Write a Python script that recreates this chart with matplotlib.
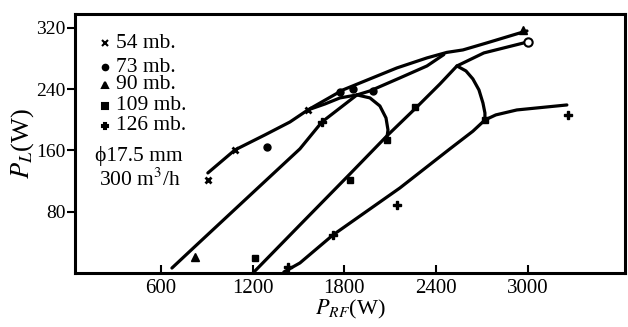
import matplotlib
matplotlib.use("Agg")
import matplotlib.pyplot as plt

plt.rcParams['font.family'] = ['Liberation Serif', 'DejaVu Serif']
plt.rcParams['mathtext.fontset'] = 'stix'

# 曲线数据
a_x = [907, 1084, 1280, 1444, 1561, 1790, 2143, 2340, 2470, 2575, 2732, 2948, 2994]
a_y = [130.6, 160.6, 180.2, 197.1, 212.8, 238.9, 267.6, 280.7, 287.9, 291.1, 300.3, 313.3, 315.9]

b_x = [672, 822, 1234, 1509, 1653, 1882, 1967, 2163, 2340, 2450]
b_y = [6.5, 34.5, 111, 162, 197.1, 232.4, 237.6, 254.6, 270.2, 285.0]

lens_x = [1561, 1673, 1771, 1882]
lens_y = [212.8, 220.6, 228.5, 232.4]

d_x = [1202, 1509, 1836, 2078, 2274, 2425, 2536, 2712, 3000]
d_y = [0, 62.7, 129.2, 178.9, 216.7, 246.7, 270.2, 287.2, 301.6]

e_x = [1404, 1509, 1725, 2163, 2490, 2640, 2719, 2790, 2928, 3255]
e_y = [1.3, 13.1, 49.6, 111, 162.0, 185.0, 199.7, 206.3, 212.8, 219.3]

arc1_x = [1882, 1967, 2032, 2072, 2085, 2078]
arc1_y = [232.4, 228.5, 218.0, 202.4, 186.7, 176.2]

arc2_x = [2536, 2595, 2640, 2680, 2706, 2719, 2719]
arc2_y = [270.2, 263.7, 253.3, 238.9, 221.9, 208.9, 199.7]

# 测量点
p54_x = [907, 1084, 1561]
p54_y = [121, 160.6, 212.8]
p73_x = [1293, 1771, 1855, 1986]
p73_y = [164.5, 236.3, 240.0, 237.6]
p90_x = [822, 2967]
p90_y = [20.9, 317.2]
p109_x = [1215, 1836, 2078, 2261, 2719]
p109_y = [19.6, 121.4, 173.6, 216.7, 199.7]
p126_x = [1430, 1725, 1653, 2143, 3262]
p126_y = [7.8, 49.6, 197.1, 88.8, 206.3]
open_x = [3000]
open_y = [301.6]

legend_labels = ['54 mb.', '73 mb.', '90 mb.', '109 mb.', '126 mb.']
legend_markers = ['x', 'o', '^', 's', 'P']
note_lines = ['ϕ17.5 mm', '300 m$^3$/h']

fig = plt.figure(figsize=(6.28, 3.27), dpi=100)
ax = fig.add_axes([0.1194, 0.1651, 0.8758, 0.7921])

lw = 2.3
for xs, ys in [(a_x, a_y), (b_x, b_y), (lens_x, lens_y), (d_x, d_y),
               (e_x, e_y), (arc1_x, arc1_y), (arc2_x, arc2_y)]:
    ax.plot(xs, ys, color='black', lw=lw, solid_capstyle='round', solid_joinstyle='round')

ax.plot(p54_x, p54_y, 'x', color='black', ms=5, mew=2)
ax.plot(p73_x, p73_y, 'o', color='black', ms=5)
ax.plot(p90_x, p90_y, '^', color='black', ms=6)
ax.plot(p109_x, p109_y, 's', color='black', ms=5)
ax.plot(p126_x, p126_y, 'P', color='black', ms=6)
ax.plot(open_x, open_y, 'o', mfc='white', mec='black', mew=1.5, ms=6)

# 图例 (手写式)
leg_y = [0.888, 0.795, 0.726, 0.645, 0.568]
for lab, mk, yy in zip(legend_labels, legend_markers, leg_y):
    ax.plot([0.055], [yy], mk, color='black', ms=4, mew=1.5, transform=ax.transAxes)
    ax.text(0.075, yy, lab, transform=ax.transAxes, fontsize=15.5, va='center', ha='left')
ax.text(0.036, 0.452, note_lines[0], transform=ax.transAxes, fontsize=15.5, va='center', ha='left')
ax.text(0.043, 0.359, note_lines[1], transform=ax.transAxes, fontsize=15.5, va='center', ha='left')

ax.set_xlim(38, 3635)
ax.set_ylim(0, 338)
ax.set_xticks([600, 1200, 1800, 2400, 3000])
ax.set_yticks([80, 160, 240, 320])
ax.tick_params(axis='x', direction='in', length=6, width=1.5, labelsize=15, pad=4)
ax.tick_params(axis='y', direction='out', length=6, width=1.5, labelsize=14, pad=1)
for s in ax.spines.values():
    s.set_linewidth(2.2)

ax.set_xlabel('$P_{RF}$(W)', fontsize=16, labelpad=0)
ax.set_ylabel('$P_L$(W)', fontsize=19, labelpad=0)

fig.savefig('out.png', dpi=100)
